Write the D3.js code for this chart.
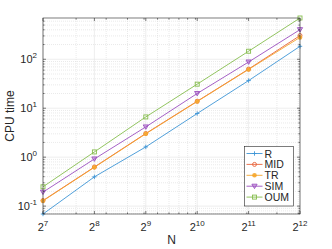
<!DOCTYPE html>
<html>
<head>
<meta charset="utf-8">
<script src="https://cdn.jsdelivr.net/npm/d3@7"></script>
<style>
  body { margin: 0; background: #fff; }
  svg text { font-family: "Liberation Sans", Arial, sans-serif; fill: #262626; }
</style>
</head>
<body>
<div id="chart-area"></div>
<script>
// problem sizes
var sizes = [128, 256, 512, 1024, 2048, 4096];
var xTickExp = [7, 8, 9, 10, 11, 12];
var yTickExp = [-1, 0, 1, 2];

// CPU time per method
var seriesNames = ["R", "MID", "TR", "SIM", "OUM"];
var timeR   = [0.069, 0.396, 1.62, 7.8, 36.7, 184];
var timeMID = [0.13, 0.63, 3.05, 13.9, 63, 305];
var timeTR  = [0.128, 0.62, 3.0, 13.7, 62, 280];
var timeSIM = [0.193, 0.92, 4.15, 20, 88, 403];
var timeOUM = [0.248, 1.28, 6.64, 31, 146, 697];

var colors = ["#3d95d6", "#e8643c", "#f5a52a", "#9b4fc0", "#86bd4e"];
var markers = ["plus", "circle", "star", "tri", "square"];
var allSeries = [timeR, timeMID, timeTR, timeSIM, timeOUM];

var width = 332, height = 249;
var margin = {top: 18, right: 32, bottom: 35, left: 43};

var svg = d3.select("#chart-area")
  .append("svg")
  .attr("width", width)
  .attr("height", height);

var x = d3.scaleLog().base(2)
  .domain([128, 4096])
  .range([margin.left, width - margin.right]);

// axis limits are tight to the data
var y = d3.scaleLog()
  .domain([d3.min(timeR), d3.max(timeOUM)])
  .range([height - margin.bottom, margin.top]);

var x0 = x.range()[0], x1 = x.range()[1];
var y0 = y.range()[0], y1 = y.range()[1];

// minor ticks like a base-10 log axis
var xMinor = [];
[100, 1000].forEach(function(b) {
  for (var k = 1; k <= 9; k++) {
    var v = b * k;
    if (v > 128 && v < 4096) xMinor.push(v);
  }
});
var yMinor = [];
[0.01, 0.1, 1, 10, 100].forEach(function(b) {
  for (var k = 2; k <= 9; k++) {
    var v = b * k;
    if (v > y.domain()[0] && v < y.domain()[1]) yMinor.push(v);
  }
});
var xMajor = xTickExp.map(function(e) { return Math.pow(2, e); });
var yMajor = yTickExp.map(function(e) { return Math.pow(10, e); });

// grid
var grid = svg.append("g");
grid.selectAll(".xm").data(xMinor).enter().append("line")
  .attr("x1", d => x(d)).attr("x2", d => x(d))
  .attr("y1", y0).attr("y2", y1)
  .attr("stroke", "#d4d4d4").attr("stroke-width", 0.5).attr("stroke-dasharray", "1,1");
grid.selectAll(".ym").data(yMinor).enter().append("line")
  .attr("y1", d => y(d)).attr("y2", d => y(d))
  .attr("x1", x0).attr("x2", x1)
  .attr("stroke", "#d4d4d4").attr("stroke-width", 0.5).attr("stroke-dasharray", "1,1");
grid.selectAll(".xM").data(xMajor).enter().append("line")
  .attr("x1", d => x(d)).attr("x2", d => x(d))
  .attr("y1", y0).attr("y2", y1)
  .attr("stroke", "#e2e2e2").attr("stroke-width", 0.6);
grid.selectAll(".yM").data(yMajor).enter().append("line")
  .attr("y1", d => y(d)).attr("y2", d => y(d))
  .attr("x1", x0).attr("x2", x1)
  .attr("stroke", "#e2e2e2").attr("stroke-width", 0.6);

// series
var line = d3.line()
  .x(function(d, i) { return x(sizes[i]); })
  .y(function(d) { return y(d); });

function drawMarker(g, type, cx, cy, col) {
  var s = 2.2;
  if (type == "plus") {
    g.append("path").attr("d", "M" + (cx - s) + "," + cy + "H" + (cx + s) + "M" + cx + "," + (cy - s) + "V" + (cy + s))
      .attr("stroke", col).attr("stroke-width", 0.9).attr("fill", "none");
  } else if (type == "circle") {
    g.append("circle").attr("cx", cx).attr("cy", cy).attr("r", 2)
      .attr("stroke", col).attr("stroke-width", 0.9).attr("fill", "none");
  } else if (type == "star") {
    g.append("circle").attr("cx", cx).attr("cy", cy).attr("r", 2.3).attr("fill", col).attr("opacity", 0.9);
  } else if (type == "tri") {
    g.append("path").attr("d", "M" + (cx - 2.6) + "," + (cy - 2) + "L" + (cx + 2.6) + "," + (cy - 2) + "L" + cx + "," + (cy + 2.4) + "Z")
      .attr("stroke", col).attr("stroke-width", 0.9).attr("fill", col).attr("fill-opacity", 0.4);
  } else {
    g.append("rect").attr("x", cx - 2).attr("y", cy - 2).attr("width", 4).attr("height", 4)
      .attr("stroke", col).attr("stroke-width", 0.9).attr("fill", "none");
  }
}

allSeries.forEach(function(vals, si) {
  var g = svg.append("g");
  g.append("path").datum(vals)
    .attr("d", line)
    .attr("fill", "none")
    .attr("stroke", colors[si])
    .attr("stroke-width", 0.9);
  vals.forEach(function(v, i) {
    drawMarker(g, markers[si], x(sizes[i]), y(v), colors[si]);
  });
});

// box and ticks
var axisCol = "#262626";
svg.append("rect")
  .attr("x", x0).attr("y", y1)
  .attr("width", x1 - x0).attr("height", y0 - y1)
  .attr("fill", "none").attr("stroke", axisCol).attr("stroke-width", 0.6);

var ticks = svg.append("g").attr("stroke", axisCol).attr("stroke-width", 0.6);
xMajor.forEach(function(v) {
  ticks.append("line").attr("x1", x(v)).attr("x2", x(v)).attr("y1", y0).attr("y2", y0 - 3);
  ticks.append("line").attr("x1", x(v)).attr("x2", x(v)).attr("y1", y1).attr("y2", y1 + 3);
});
xMinor.forEach(function(v) {
  ticks.append("line").attr("x1", x(v)).attr("x2", x(v)).attr("y1", y0).attr("y2", y0 - 1.6);
  ticks.append("line").attr("x1", x(v)).attr("x2", x(v)).attr("y1", y1).attr("y2", y1 + 1.6);
});
yMajor.forEach(function(v) {
  ticks.append("line").attr("y1", y(v)).attr("y2", y(v)).attr("x1", x0).attr("x2", x0 + 3);
  ticks.append("line").attr("y1", y(v)).attr("y2", y(v)).attr("x1", x1).attr("x2", x1 - 3);
});
yMinor.forEach(function(v) {
  ticks.append("line").attr("y1", y(v)).attr("y2", y(v)).attr("x1", x0).attr("x2", x0 + 1.6);
  ticks.append("line").attr("y1", y(v)).attr("y2", y(v)).attr("x1", x1).attr("x2", x1 - 1.6);
});

// tick labels
xTickExp.forEach(function(e) {
  var t = svg.append("text")
    .attr("x", x(Math.pow(2, e)))
    .attr("y", y0 + 17)
    .attr("text-anchor", "middle")
    .attr("font-size", 11);
  t.append("tspan").text("2");
  t.append("tspan").attr("dy", -5).attr("font-size", 8).text(e);
});
yTickExp.forEach(function(e) {
  var t = svg.append("text")
    .attr("x", x0 - 6)
    .attr("y", y(Math.pow(10, e)) + 4)
    .attr("text-anchor", "end")
    .attr("font-size", 11);
  t.append("tspan").text("10");
  t.append("tspan").attr("dy", -5).attr("font-size", 8).text(e);
});

// axis labels
svg.append("text")
  .attr("x", (x0 + x1) / 2)
  .attr("y", 244)
  .attr("text-anchor", "middle")
  .attr("font-size", 12)
  .text("N");
svg.append("text")
  .attr("transform", "translate(14," + ((y0 + y1) / 2) + ") rotate(-90)")
  .attr("text-anchor", "middle")
  .attr("font-size", 12)
  .text("CPU time");

// legend
var leg = svg.append("g").attr("transform", "translate(244.5,146.5)");
leg.append("rect")
  .attr("width", 49).attr("height", 59.5)
  .attr("fill", "#fff").attr("stroke", axisCol).attr("stroke-width", 0.6);
seriesNames.forEach(function(name, i) {
  var ly = 7 + i * 10.9;
  leg.append("line").attr("x1", 2).attr("x2", 18).attr("y1", ly).attr("y2", ly)
    .attr("stroke", colors[i]).attr("stroke-width", 0.9);
  drawMarker(leg, markers[i], 10, ly, colors[i]);
  leg.append("text").attr("x", 20).attr("y", ly + 4)
    .attr("font-size", 10.5).text(name);
});
</script>
</body>
</html>
